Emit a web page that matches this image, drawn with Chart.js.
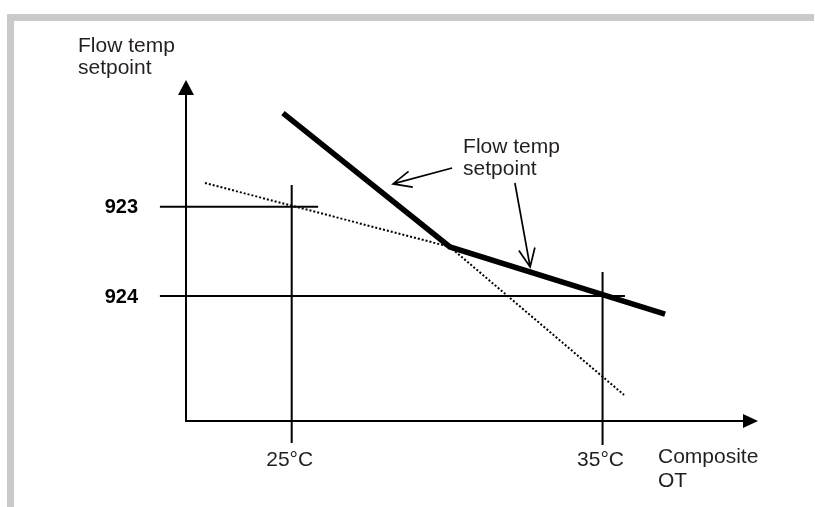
<!DOCTYPE html>
<html>
<head>
<meta charset="utf-8">
<style>
  html, body { margin: 0; padding: 0; background: #fff; }
  #wrap { width: 815px; height: 507px; }
</style>
<script src="https://cdn.jsdelivr.net/npm/chart.js@4/dist/chart.umd.min.js"></script>
</head>
<body>
<div id="wrap"><canvas id="chart" width="815" height="507"></canvas></div>
<script>
// Composite outdoor temp (x, degC) vs flow temp setpoint (y, arbitrary units)
const setpointCurve = [
    { x: 24.72, y: 22.25 },
    { x: 30.09, y: 14.75 },
    { x: 37.01, y: 10.99 }
];

// dotted reference curve crossing the setpoint line
const dottedCurve = [
    { x: 22.21, y: 18.33 },
    { x: 30.09, y: 14.75 },
    { x: 35.69, y: 6.46 }
];

// tick labels
const xTickValues = [25, 35];
const xTickLabels = ['25°C', '35°C'];
const yTickValues = [17, 12];
const yTickLabels = ['923', '924'];

// guide lines through the ticks
const guide25 = [{ x: 25, y: 18.22 }, { x: 25, y: 3.77 }];
const guide35 = [{ x: 35, y: 13.35 }, { x: 35, y: 3.66 }];
const guide923 = [{ x: 20.76, y: 17 }, { x: 25.85, y: 17 }];
const guide924 = [{ x: 20.76, y: 12 }, { x: 35.72, y: 12 }];

// callout arrows (tail -> tip) in data units
const calloutArrows = [
    { from: { x: 30.16, y: 19.17 }, to: { x: 28.26, y: 18.28 } },
    { from: { x: 32.18, y: 18.33 }, to: { x: 32.67, y: 13.63 } }
];
const calloutText = ['Flow temp', 'setpoint'];
const yAxisTitle = ['Flow temp', 'setpoint'];
const xAxisTitle = ['Composite', 'OT'];

const TEXT = '#231f20';
const FONT = '"Liberation Sans", Arial, sans-serif';

function lineSet(data, width, dash) {
    return {
        data: data,
        showLine: true,
        borderColor: '#000',
        borderWidth: width,
        borderDash: dash || [],
        pointRadius: 0,
        fill: false,
        clip: false,
        borderCapStyle: 'butt',
        borderJoinStyle: 'miter'
    };
}

// draw an open V arrowhead
function openArrow(ctx, x1, y1, x2, y2) {
    const ang = Math.atan2(y2 - y1, x2 - x1);
    const len = 20, spread = 0.42;
    ctx.beginPath();
    ctx.moveTo(x1, y1);
    ctx.lineTo(x2, y2);
    ctx.moveTo(x2 - len * Math.cos(ang - spread), y2 - len * Math.sin(ang - spread));
    ctx.lineTo(x2, y2);
    ctx.lineTo(x2 - len * Math.cos(ang + spread), y2 - len * Math.sin(ang + spread));
    ctx.stroke();
}

const sketchPlugin = {
    id: 'sketch',
    beforeDraw(chart) {
        const ctx = chart.ctx;
        ctx.save();
        ctx.fillStyle = '#fff';
        ctx.fillRect(0, 0, chart.width, chart.height);
        // grey frame on top and left
        ctx.fillStyle = '#c9cacc';
        ctx.fillRect(7, 14, chart.width - 8, 7);
        ctx.fillRect(7, 14, 7, chart.height - 14);
        ctx.restore();
    },
    afterDatasetsDraw(chart) {
        const ctx = chart.ctx;
        const xs = chart.scales.x, ys = chart.scales.y;
        const area = chart.chartArea;
        const x0 = area.left, yb = area.bottom;

        ctx.save();
        ctx.strokeStyle = '#000';
        ctx.fillStyle = '#000';
        ctx.lineWidth = 2;

        // y axis with arrow
        ctx.beginPath();
        ctx.moveTo(x0, yb + 1);
        ctx.lineTo(x0, area.top + 12);
        ctx.stroke();
        ctx.beginPath();
        ctx.moveTo(x0, area.top);
        ctx.lineTo(x0 - 8, area.top + 15);
        ctx.lineTo(x0 + 8, area.top + 15);
        ctx.closePath();
        ctx.fill();

        // x axis with arrow
        ctx.beginPath();
        ctx.moveTo(x0 - 1, yb);
        ctx.lineTo(area.right - 12, yb);
        ctx.stroke();
        ctx.beginPath();
        ctx.moveTo(area.right, yb);
        ctx.lineTo(area.right - 15, yb - 7);
        ctx.lineTo(area.right - 15, yb + 7);
        ctx.closePath();
        ctx.fill();

        // callout arrows
        ctx.lineWidth = 1.7;
        calloutArrows.forEach(a => {
            openArrow(ctx,
                xs.getPixelForValue(a.from.x), ys.getPixelForValue(a.from.y),
                xs.getPixelForValue(a.to.x), ys.getPixelForValue(a.to.y));
        });

        // text
        ctx.fillStyle = TEXT;
        ctx.textBaseline = 'alphabetic';
        ctx.font = '21px ' + FONT;
        ctx.textAlign = 'left';
        ctx.fillText(yAxisTitle[0], x0 - 108, area.top - 28);
        ctx.fillText(yAxisTitle[1], x0 - 108, area.top - 6);

        const cx = xs.getPixelForValue(calloutArrows[0].from.x) + 11;
        const cy = ys.getPixelForValue(calloutArrows[0].from.y) - 15;
        ctx.fillText(calloutText[0], cx, cy);
        ctx.fillText(calloutText[1], cx, cy + 22);

        ctx.fillText(xAxisTitle[0], area.right - 100, yb + 42);
        ctx.fillText(xAxisTitle[1], area.right - 100, yb + 66);

        ctx.textAlign = 'center';
        xTickValues.forEach((v, i) => {
            ctx.fillText(xTickLabels[i], xs.getPixelForValue(v) - 2, yb + 45);
        });

        ctx.fillStyle = '#000';
        ctx.font = 'bold 20px ' + FONT;
        ctx.textAlign = 'right';
        ctx.textBaseline = 'middle';
        yTickValues.forEach((v, i) => {
            ctx.fillText(yTickLabels[i], x0 - 48, ys.getPixelForValue(v) + 1);
        });
        ctx.restore();
    }
};

new Chart(document.getElementById('chart').getContext('2d'), {
    type: 'scatter',
    data: {
        datasets: [
            lineSet(guide25, 2),
            lineSet(guide35, 2),
            lineSet(guide923, 2),
            lineSet(guide924, 2),
            lineSet(dottedCurve, 2, [2, 2]),
            lineSet(setpointCurve, 5.5)
        ]
    },
    options: {
        responsive: false,
        devicePixelRatio: 1,
        animation: false,
        layout: { padding: { left: 186, right: 57, top: 80, bottom: 86 } },
        plugins: {
            legend: { display: false },
            tooltip: { enabled: false }
        },
        scales: {
            x: { type: 'linear', min: 21.6, max: 40, display: false },
            y: { type: 'linear', min: 5, max: 24.1, display: false }
        }
    },
    plugins: [sketchPlugin]
});
</script>
</body>
</html>
